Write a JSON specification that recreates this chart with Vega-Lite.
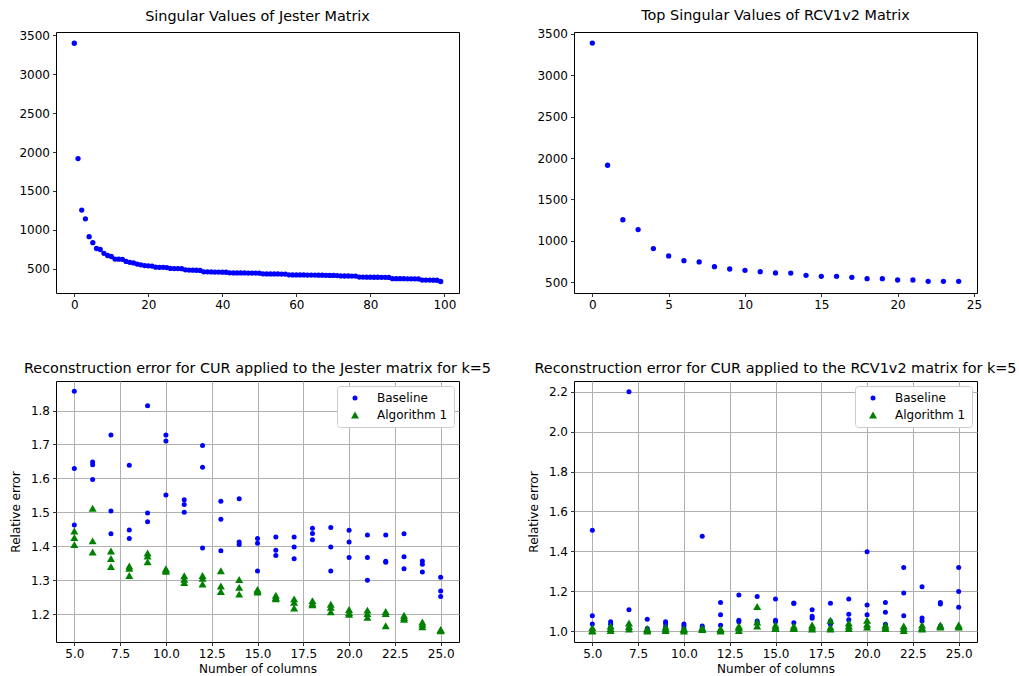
{
  "$schema": "https://vega.github.io/schema/vega-lite/v6.json",
  "padding": {"left": 8, "top": 7, "right": 0, "bottom": 0},
  "background": "white",
  "config": {
    "font": "DejaVu Sans",
    "view": {"stroke": "black", "strokeWidth": 1},
    "axis": {"domain": false, "tickColor": "black", "tickSize": 3.5, "tickWidth": 0.8, "labelFontSize": 12, "labelColor": "#000", "labelPadding": 3, "titleFontSize": 12, "titleFontWeight": "normal", "titleColor": "#000", "grid": false, "labelFlush": false, "labelOverlap": false, "gridColor": "#b0b0b0", "gridWidth": 1},
    "title": {"fontSize": 14.4, "fontWeight": "normal", "color": "#000", "offset": 5, "anchor": "middle"},
    "legend": {"labelFontSize": 12, "labelColor": "#000", "fillColor": "white", "strokeColor": "#cccccc", "cornerRadius": 3, "padding": 6, "rowPadding": 5, "symbolOffset": 6, "labelOffset": 16, "offset": 5}
  },
  "datasets": {
    "jester": [
      {"i":0,"v":3400},{"i":1,"v":1915},{"i":2,"v":1252},{"i":3,"v":1140},{"i":4,"v":910},{"i":5,"v":833},{"i":6,"v":758},{"i":7,"v":745},{"i":8,"v":695},{"i":9,"v":668},
      {"i":10,"v":655},{"i":11,"v":622},{"i":12,"v":620},{"i":13,"v":618},{"i":14,"v":592},{"i":15,"v":580},{"i":16,"v":572},{"i":17,"v":558},{"i":18,"v":548},{"i":19,"v":538},
      {"i":20,"v":535},{"i":21,"v":532},{"i":22,"v":518},{"i":23,"v":516},{"i":24,"v":515},{"i":25,"v":513},{"i":26,"v":502},{"i":27,"v":500},{"i":28,"v":499},{"i":29,"v":498},
      {"i":30,"v":484},{"i":31,"v":480},{"i":32,"v":479},{"i":33,"v":478},{"i":34,"v":476},{"i":35,"v":458},{"i":36,"v":457},{"i":37,"v":456},{"i":38,"v":455},{"i":39,"v":454},
      {"i":40,"v":453},{"i":41,"v":452},{"i":42,"v":445},{"i":43,"v":444},{"i":44,"v":444},{"i":45,"v":443},{"i":46,"v":443},{"i":47,"v":442},{"i":48,"v":442},{"i":49,"v":441},
      {"i":50,"v":440},{"i":51,"v":432},{"i":52,"v":431},{"i":53,"v":431},{"i":54,"v":430},{"i":55,"v":430},{"i":56,"v":429},{"i":57,"v":429},{"i":58,"v":419},{"i":59,"v":418},
      {"i":60,"v":418},{"i":61,"v":417},{"i":62,"v":417},{"i":63,"v":416},{"i":64,"v":416},{"i":65,"v":416},{"i":66,"v":415},{"i":67,"v":415},{"i":68,"v":412},{"i":69,"v":411},
      {"i":70,"v":411},{"i":71,"v":410},{"i":72,"v":405},{"i":73,"v":404},{"i":74,"v":404},{"i":75,"v":403},{"i":76,"v":403},{"i":77,"v":390},{"i":78,"v":390},{"i":79,"v":389},
      {"i":80,"v":389},{"i":81,"v":388},{"i":82,"v":388},{"i":83,"v":387},{"i":84,"v":387},{"i":85,"v":386},{"i":86,"v":370},{"i":87,"v":370},{"i":88,"v":369},{"i":89,"v":369},
      {"i":90,"v":368},{"i":91,"v":368},{"i":92,"v":367},{"i":93,"v":366},{"i":94,"v":352},{"i":95,"v":351},{"i":96,"v":351},{"i":97,"v":350},{"i":98,"v":349},{"i":99,"v":333}
    ],
    "rcv": [
      {"i":0,"v":3390},{"i":1,"v":1914},{"i":2,"v":1255},{"i":3,"v":1137},{"i":4,"v":907},{"i":5,"v":818},{"i":6,"v":761},{"i":7,"v":745},{"i":8,"v":688},{"i":9,"v":660},
      {"i":10,"v":644},{"i":11,"v":628},{"i":12,"v":612},{"i":13,"v":611},{"i":14,"v":584},{"i":15,"v":572},{"i":16,"v":572},{"i":17,"v":560},{"i":18,"v":543},{"i":19,"v":543},
      {"i":20,"v":527},{"i":21,"v":527},{"i":22,"v":511},{"i":23,"v":511},{"i":24,"v":511}
    ],
    "jesterErr": [
      {"x":5,"y":1.857,"m":"Baseline"},{"x":5,"y":1.629,"m":"Baseline"},{"x":5,"y":1.463,"m":"Baseline"},
      {"x":6,"y":1.648,"m":"Baseline"},{"x":6,"y":1.640,"m":"Baseline"},{"x":6,"y":1.597,"m":"Baseline"},
      {"x":7,"y":1.728,"m":"Baseline"},{"x":7,"y":1.504,"m":"Baseline"},{"x":7,"y":1.437,"m":"Baseline"},
      {"x":8,"y":1.639,"m":"Baseline"},{"x":8,"y":1.448,"m":"Baseline"},{"x":8,"y":1.423,"m":"Baseline"},
      {"x":9,"y":1.814,"m":"Baseline"},{"x":9,"y":1.498,"m":"Baseline"},{"x":9,"y":1.472,"m":"Baseline"},
      {"x":10,"y":1.728,"m":"Baseline"},{"x":10,"y":1.710,"m":"Baseline"},{"x":10,"y":1.551,"m":"Baseline"},
      {"x":11,"y":1.537,"m":"Baseline"},{"x":11,"y":1.523,"m":"Baseline"},{"x":11,"y":1.500,"m":"Baseline"},
      {"x":12,"y":1.697,"m":"Baseline"},{"x":12,"y":1.633,"m":"Baseline"},{"x":12,"y":1.395,"m":"Baseline"},
      {"x":13,"y":1.533,"m":"Baseline"},{"x":13,"y":1.480,"m":"Baseline"},{"x":13,"y":1.387,"m":"Baseline"},
      {"x":14,"y":1.540,"m":"Baseline"},{"x":14,"y":1.413,"m":"Baseline"},{"x":14,"y":1.405,"m":"Baseline"},
      {"x":15,"y":1.423,"m":"Baseline"},{"x":15,"y":1.409,"m":"Baseline"},{"x":15,"y":1.327,"m":"Baseline"},
      {"x":16,"y":1.427,"m":"Baseline"},{"x":16,"y":1.388,"m":"Baseline"},{"x":16,"y":1.373,"m":"Baseline"},
      {"x":17,"y":1.427,"m":"Baseline"},{"x":17,"y":1.398,"m":"Baseline"},{"x":17,"y":1.363,"m":"Baseline"},
      {"x":18,"y":1.453,"m":"Baseline"},{"x":18,"y":1.438,"m":"Baseline"},{"x":18,"y":1.419,"m":"Baseline"},
      {"x":19,"y":1.455,"m":"Baseline"},{"x":19,"y":1.398,"m":"Baseline"},{"x":19,"y":1.327,"m":"Baseline"},
      {"x":20,"y":1.447,"m":"Baseline"},{"x":20,"y":1.413,"m":"Baseline"},{"x":20,"y":1.367,"m":"Baseline"},
      {"x":21,"y":1.433,"m":"Baseline"},{"x":21,"y":1.367,"m":"Baseline"},{"x":21,"y":1.300,"m":"Baseline"},
      {"x":22,"y":1.433,"m":"Baseline"},{"x":22,"y":1.356,"m":"Baseline"},{"x":22,"y":1.353,"m":"Baseline"},
      {"x":23,"y":1.437,"m":"Baseline"},{"x":23,"y":1.369,"m":"Baseline"},{"x":23,"y":1.334,"m":"Baseline"},
      {"x":24,"y":1.357,"m":"Baseline"},{"x":24,"y":1.347,"m":"Baseline"},{"x":24,"y":1.324,"m":"Baseline"},
      {"x":25,"y":1.309,"m":"Baseline"},{"x":25,"y":1.268,"m":"Baseline"},{"x":25,"y":1.252,"m":"Baseline"},
      {"x":5,"y":1.445,"m":"Algorithm 1"},{"x":5,"y":1.426,"m":"Algorithm 1"},{"x":5,"y":1.405,"m":"Algorithm 1"},
      {"x":6,"y":1.512,"m":"Algorithm 1"},{"x":6,"y":1.416,"m":"Algorithm 1"},{"x":6,"y":1.383,"m":"Algorithm 1"},
      {"x":7,"y":1.386,"m":"Algorithm 1"},{"x":7,"y":1.364,"m":"Algorithm 1"},{"x":7,"y":1.340,"m":"Algorithm 1"},
      {"x":8,"y":1.342,"m":"Algorithm 1"},{"x":8,"y":1.335,"m":"Algorithm 1"},{"x":8,"y":1.314,"m":"Algorithm 1"},
      {"x":9,"y":1.380,"m":"Algorithm 1"},{"x":9,"y":1.371,"m":"Algorithm 1"},{"x":9,"y":1.354,"m":"Algorithm 1"},
      {"x":10,"y":1.334,"m":"Algorithm 1"},{"x":10,"y":1.330,"m":"Algorithm 1"},{"x":10,"y":1.326,"m":"Algorithm 1"},
      {"x":11,"y":1.313,"m":"Algorithm 1"},{"x":11,"y":1.303,"m":"Algorithm 1"},{"x":11,"y":1.293,"m":"Algorithm 1"},
      {"x":12,"y":1.314,"m":"Algorithm 1"},{"x":12,"y":1.306,"m":"Algorithm 1"},{"x":12,"y":1.289,"m":"Algorithm 1"},
      {"x":13,"y":1.328,"m":"Algorithm 1"},{"x":13,"y":1.283,"m":"Algorithm 1"},{"x":13,"y":1.267,"m":"Algorithm 1"},
      {"x":14,"y":1.302,"m":"Algorithm 1"},{"x":14,"y":1.279,"m":"Algorithm 1"},{"x":14,"y":1.259,"m":"Algorithm 1"},
      {"x":15,"y":1.273,"m":"Algorithm 1"},{"x":15,"y":1.269,"m":"Algorithm 1"},{"x":15,"y":1.265,"m":"Algorithm 1"},
      {"x":16,"y":1.256,"m":"Algorithm 1"},{"x":16,"y":1.249,"m":"Algorithm 1"},{"x":16,"y":1.245,"m":"Algorithm 1"},
      {"x":17,"y":1.245,"m":"Algorithm 1"},{"x":17,"y":1.235,"m":"Algorithm 1"},{"x":17,"y":1.218,"m":"Algorithm 1"},
      {"x":18,"y":1.240,"m":"Algorithm 1"},{"x":18,"y":1.232,"m":"Algorithm 1"},{"x":18,"y":1.228,"m":"Algorithm 1"},
      {"x":19,"y":1.229,"m":"Algorithm 1"},{"x":19,"y":1.220,"m":"Algorithm 1"},{"x":19,"y":1.207,"m":"Algorithm 1"},
      {"x":20,"y":1.214,"m":"Algorithm 1"},{"x":20,"y":1.205,"m":"Algorithm 1"},{"x":20,"y":1.200,"m":"Algorithm 1"},
      {"x":21,"y":1.212,"m":"Algorithm 1"},{"x":21,"y":1.202,"m":"Algorithm 1"},{"x":21,"y":1.191,"m":"Algorithm 1"},
      {"x":22,"y":1.208,"m":"Algorithm 1"},{"x":22,"y":1.202,"m":"Algorithm 1"},{"x":22,"y":1.166,"m":"Algorithm 1"},
      {"x":23,"y":1.197,"m":"Algorithm 1"},{"x":23,"y":1.190,"m":"Algorithm 1"},{"x":23,"y":1.185,"m":"Algorithm 1"},
      {"x":24,"y":1.177,"m":"Algorithm 1"},{"x":24,"y":1.170,"m":"Algorithm 1"},{"x":24,"y":1.163,"m":"Algorithm 1"},
      {"x":25,"y":1.155,"m":"Algorithm 1"},{"x":25,"y":1.153,"m":"Algorithm 1"},{"x":25,"y":1.151,"m":"Algorithm 1"}
    ],
    "rcvErr": [
      {"x":5,"y":1.505,"m":"Baseline"},{"x":5,"y":1.077,"m":"Baseline"},{"x":5,"y":1.035,"m":"Baseline"},
      {"x":6,"y":1.047,"m":"Baseline"},{"x":6,"y":1.034,"m":"Baseline"},{"x":6,"y":1.017,"m":"Baseline"},
      {"x":7,"y":2.200,"m":"Baseline"},{"x":7,"y":1.107,"m":"Baseline"},{"x":7,"y":1.013,"m":"Baseline"},
      {"x":8,"y":1.059,"m":"Baseline"},{"x":8,"y":1.013,"m":"Baseline"},{"x":8,"y":1.007,"m":"Baseline"},
      {"x":9,"y":1.047,"m":"Baseline"},{"x":9,"y":1.037,"m":"Baseline"},{"x":9,"y":1.020,"m":"Baseline"},
      {"x":10,"y":1.035,"m":"Baseline"},{"x":10,"y":1.025,"m":"Baseline"},{"x":10,"y":1.013,"m":"Baseline"},
      {"x":11,"y":1.475,"m":"Baseline"},{"x":11,"y":1.025,"m":"Baseline"},{"x":11,"y":1.017,"m":"Baseline"},
      {"x":12,"y":1.143,"m":"Baseline"},{"x":12,"y":1.082,"m":"Baseline"},{"x":12,"y":1.029,"m":"Baseline"},
      {"x":13,"y":1.181,"m":"Baseline"},{"x":13,"y":1.054,"m":"Baseline"},{"x":13,"y":1.047,"m":"Baseline"},
      {"x":14,"y":1.173,"m":"Baseline"},{"x":14,"y":1.050,"m":"Baseline"},{"x":14,"y":1.042,"m":"Baseline"},
      {"x":15,"y":1.161,"m":"Baseline"},{"x":15,"y":1.054,"m":"Baseline"},{"x":15,"y":1.047,"m":"Baseline"},
      {"x":16,"y":1.141,"m":"Baseline"},{"x":16,"y":1.138,"m":"Baseline"},{"x":16,"y":1.042,"m":"Baseline"},
      {"x":17,"y":1.107,"m":"Baseline"},{"x":17,"y":1.074,"m":"Baseline"},{"x":17,"y":1.064,"m":"Baseline"},
      {"x":18,"y":1.139,"m":"Baseline"},{"x":18,"y":1.050,"m":"Baseline"},{"x":18,"y":1.034,"m":"Baseline"},
      {"x":19,"y":1.161,"m":"Baseline"},{"x":19,"y":1.084,"m":"Baseline"},{"x":19,"y":1.057,"m":"Baseline"},
      {"x":20,"y":1.398,"m":"Baseline"},{"x":20,"y":1.131,"m":"Baseline"},{"x":20,"y":1.082,"m":"Baseline"},
      {"x":21,"y":1.143,"m":"Baseline"},{"x":21,"y":1.094,"m":"Baseline"},{"x":21,"y":1.034,"m":"Baseline"},
      {"x":22,"y":1.319,"m":"Baseline"},{"x":22,"y":1.191,"m":"Baseline"},{"x":22,"y":1.077,"m":"Baseline"},
      {"x":23,"y":1.222,"m":"Baseline"},{"x":23,"y":1.065,"m":"Baseline"},{"x":23,"y":1.050,"m":"Baseline"},
      {"x":24,"y":1.143,"m":"Baseline"},{"x":24,"y":1.136,"m":"Baseline"},{"x":24,"y":1.025,"m":"Baseline"},
      {"x":25,"y":1.319,"m":"Baseline"},{"x":25,"y":1.198,"m":"Baseline"},{"x":25,"y":1.119,"m":"Baseline"},
      {"x":5,"y":1.017,"m":"Algorithm 1"},{"x":5,"y":1.003,"m":"Algorithm 1"},{"x":5,"y":1.000,"m":"Algorithm 1"},
      {"x":6,"y":1.025,"m":"Algorithm 1"},{"x":6,"y":1.013,"m":"Algorithm 1"},{"x":6,"y":1.003,"m":"Algorithm 1"},
      {"x":7,"y":1.040,"m":"Algorithm 1"},{"x":7,"y":1.023,"m":"Algorithm 1"},{"x":7,"y":1.010,"m":"Algorithm 1"},
      {"x":8,"y":1.013,"m":"Algorithm 1"},{"x":8,"y":1.007,"m":"Algorithm 1"},{"x":8,"y":1.000,"m":"Algorithm 1"},
      {"x":9,"y":1.020,"m":"Algorithm 1"},{"x":9,"y":1.010,"m":"Algorithm 1"},{"x":9,"y":1.003,"m":"Algorithm 1"},
      {"x":10,"y":1.013,"m":"Algorithm 1"},{"x":10,"y":1.007,"m":"Algorithm 1"},{"x":10,"y":1.000,"m":"Algorithm 1"},
      {"x":11,"y":1.017,"m":"Algorithm 1"},{"x":11,"y":1.010,"m":"Algorithm 1"},{"x":11,"y":1.007,"m":"Algorithm 1"},
      {"x":12,"y":1.013,"m":"Algorithm 1"},{"x":12,"y":1.007,"m":"Algorithm 1"},{"x":12,"y":1.000,"m":"Algorithm 1"},
      {"x":13,"y":1.025,"m":"Algorithm 1"},{"x":13,"y":1.017,"m":"Algorithm 1"},{"x":13,"y":1.003,"m":"Algorithm 1"},
      {"x":14,"y":1.123,"m":"Algorithm 1"},{"x":14,"y":1.045,"m":"Algorithm 1"},{"x":14,"y":1.025,"m":"Algorithm 1"},
      {"x":15,"y":1.030,"m":"Algorithm 1"},{"x":15,"y":1.020,"m":"Algorithm 1"},{"x":15,"y":1.013,"m":"Algorithm 1"},
      {"x":16,"y":1.025,"m":"Algorithm 1"},{"x":16,"y":1.017,"m":"Algorithm 1"},{"x":16,"y":1.013,"m":"Algorithm 1"},
      {"x":17,"y":1.030,"m":"Algorithm 1"},{"x":17,"y":1.020,"m":"Algorithm 1"},{"x":17,"y":1.010,"m":"Algorithm 1"},
      {"x":18,"y":1.054,"m":"Algorithm 1"},{"x":18,"y":1.020,"m":"Algorithm 1"},{"x":18,"y":1.010,"m":"Algorithm 1"},
      {"x":19,"y":1.040,"m":"Algorithm 1"},{"x":19,"y":1.025,"m":"Algorithm 1"},{"x":19,"y":1.013,"m":"Algorithm 1"},
      {"x":20,"y":1.054,"m":"Algorithm 1"},{"x":20,"y":1.034,"m":"Algorithm 1"},{"x":20,"y":1.020,"m":"Algorithm 1"},
      {"x":21,"y":1.030,"m":"Algorithm 1"},{"x":21,"y":1.020,"m":"Algorithm 1"},{"x":21,"y":1.013,"m":"Algorithm 1"},
      {"x":22,"y":1.025,"m":"Algorithm 1"},{"x":22,"y":1.013,"m":"Algorithm 1"},{"x":22,"y":1.003,"m":"Algorithm 1"},
      {"x":23,"y":1.030,"m":"Algorithm 1"},{"x":23,"y":1.017,"m":"Algorithm 1"},{"x":23,"y":1.010,"m":"Algorithm 1"},
      {"x":24,"y":1.030,"m":"Algorithm 1"},{"x":24,"y":1.025,"m":"Algorithm 1"},{"x":24,"y":1.020,"m":"Algorithm 1"},
      {"x":25,"y":1.030,"m":"Algorithm 1"},{"x":25,"y":1.025,"m":"Algorithm 1"},{"x":25,"y":1.020,"m":"Algorithm 1"}
    ]
  },
  "columns": 2,
  "spacing": {"row": 88, "column": 115},
  "bounds": "flush",
  "resolve": {"scale": {"x": "independent", "y": "independent", "color": "independent", "shape": "independent", "size": "independent"}, "legend": {"color": "independent", "shape": "independent", "size": "independent"}},
  "concat": [
    {
      "width": 403, "height": 261,
      "title": "Singular Values of Jester Matrix",
      "data": {"name": "jester"},
      "mark": {"type": "point", "filled": true, "opacity": 1, "color": "blue", "size": 28, "shape": "circle"},
      "encoding": {
        "x": {"field": "i", "type": "quantitative", "scale": {"domain": [-4.95, 103.95], "nice": false, "zero": false}, "axis": {"values": [0, 20, 40, 60, 80, 100], "title": null}},
        "y": {"field": "v", "type": "quantitative", "scale": {"domain": [185, 3545], "nice": false, "zero": false}, "axis": {"values": [500, 1000, 1500, 2000, 2500, 3000, 3500], "format": "d", "title": null}}
      }
    },
    {
      "width": 403, "height": 261,
      "title": "Top Singular Values of RCV1v2 Matrix",
      "data": {"name": "rcv"},
      "mark": {"type": "point", "filled": true, "opacity": 1, "color": "blue", "size": 28, "shape": "circle"},
      "encoding": {
        "x": {"field": "i", "type": "quantitative", "scale": {"domain": [-1.2, 25.2], "nice": false, "zero": false}, "axis": {"values": [0, 5, 10, 15, 20, 25], "title": null}},
        "y": {"field": "v", "type": "quantitative", "scale": {"domain": [370, 3524], "nice": false, "zero": false}, "axis": {"values": [500, 1000, 1500, 2000, 2500, 3000, 3500], "format": "d", "title": null}}
      }
    },
    {
      "width": 403, "height": 261,
      "title": "Reconstruction error for CUR applied to the Jester matrix for k=5",
      "data": {"name": "jesterErr"},
      "mark": {"type": "point", "filled": true, "opacity": 1},
      "encoding": {
        "x": {"field": "x", "type": "quantitative", "scale": {"domain": [4, 26], "nice": false, "zero": false}, "axis": {"values": [5, 7.5, 10, 12.5, 15, 17.5, 20, 22.5, 25], "format": ".1f", "title": "Number of columns", "grid": true, "titlePadding": 4}},
        "y": {"field": "y", "type": "quantitative", "scale": {"domain": [1.118, 1.887], "nice": false, "zero": false}, "axis": {"values": [1.2, 1.3, 1.4, 1.5, 1.6, 1.7, 1.8], "format": ".1f", "title": "Relative error", "grid": true, "titlePadding": 8}},
        "color": {"field": "m", "type": "nominal", "scale": {"domain": ["Baseline", "Algorithm 1"], "range": ["blue", "green"]}, "legend": {"title": null, "orient": "top-right"}},
        "shape": {"field": "m", "type": "nominal", "scale": {"domain": ["Baseline", "Algorithm 1"], "range": ["circle", "triangle-up"]}, "legend": {"title": null, "orient": "top-right"}},
        "size": {"field": "m", "type": "nominal", "scale": {"domain": ["Baseline", "Algorithm 1"], "range": [25, 64]}, "legend": {"title": null, "orient": "top-right"}}
      }
    },
    {
      "width": 403, "height": 261,
      "title": "Reconstruction error for CUR applied to the RCV1v2 matrix for k=5",
      "data": {"name": "rcvErr"},
      "mark": {"type": "point", "filled": true, "opacity": 1},
      "encoding": {
        "x": {"field": "x", "type": "quantitative", "scale": {"domain": [4, 26], "nice": false, "zero": false}, "axis": {"values": [5, 7.5, 10, 12.5, 15, 17.5, 20, 22.5, 25], "format": ".1f", "title": "Number of columns", "grid": true, "titlePadding": 4}},
        "y": {"field": "y", "type": "quantitative", "scale": {"domain": [0.945, 2.254], "nice": false, "zero": false}, "axis": {"values": [1.0, 1.2, 1.4, 1.6, 1.8, 2.0, 2.2], "format": ".1f", "title": "Relative error", "grid": true, "titlePadding": 8}},
        "color": {"field": "m", "type": "nominal", "scale": {"domain": ["Baseline", "Algorithm 1"], "range": ["blue", "green"]}, "legend": {"title": null, "orient": "top-right"}},
        "shape": {"field": "m", "type": "nominal", "scale": {"domain": ["Baseline", "Algorithm 1"], "range": ["circle", "triangle-up"]}, "legend": {"title": null, "orient": "top-right"}},
        "size": {"field": "m", "type": "nominal", "scale": {"domain": ["Baseline", "Algorithm 1"], "range": [25, 64]}, "legend": {"title": null, "orient": "top-right"}}
      }
    }
  ]
}
